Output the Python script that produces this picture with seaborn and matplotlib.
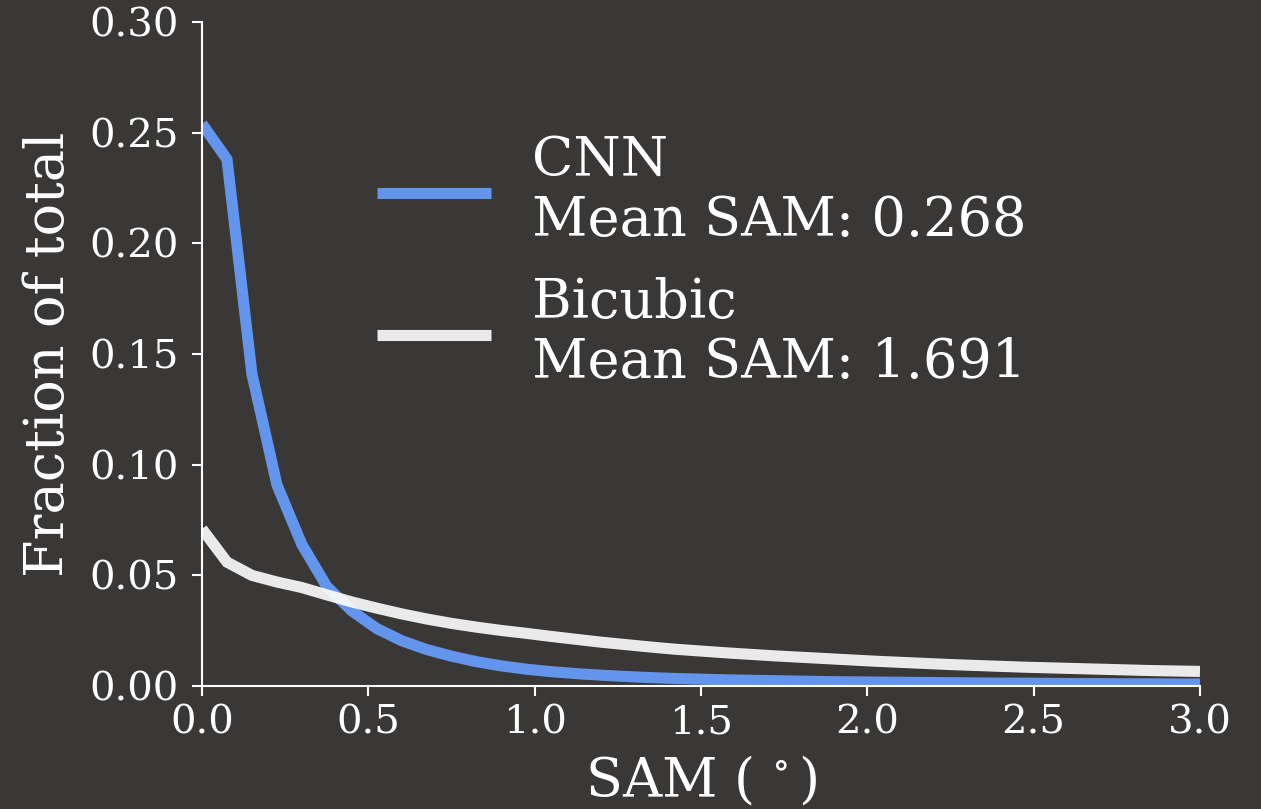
import numpy as np
import pandas as pd
import matplotlib
matplotlib.use("Agg")
import matplotlib.pyplot as plt
import seaborn as sns

# SAM histogram bins (degrees) and fraction of pixels in each bin
sam_bins = [0.0, 0.075, 0.15, 0.225, 0.3, 0.375, 0.45, 0.525, 0.6, 0.675,
            0.75, 0.825, 0.9, 0.975, 1.05, 1.125, 1.2, 1.275, 1.35, 1.425,
            1.5, 1.575, 1.65, 1.725, 1.8, 1.875, 1.95, 2.025, 2.1, 2.175,
            2.25, 2.325, 2.4, 2.475, 2.55, 2.625, 2.7, 2.775, 2.85, 2.925, 3.0]

cnn_frac = [0.254, 0.238, 0.141, 0.091, 0.064, 0.045, 0.034, 0.026, 0.0205, 0.0165,
            0.0135, 0.011, 0.0091, 0.0076, 0.0065, 0.0056, 0.0049, 0.0043, 0.0038, 0.0034,
            0.0031, 0.0028, 0.0026, 0.0024, 0.0022, 0.0020, 0.0019, 0.0018, 0.0017, 0.0016,
            0.0015, 0.0014, 0.0013, 0.0013, 0.0012, 0.0011, 0.0011, 0.0010, 0.0010, 0.0009, 0.0009]

bicubic_frac = [0.071, 0.056, 0.050, 0.047, 0.0445, 0.0412, 0.0380, 0.0352, 0.0326, 0.0303,
                0.0283, 0.0266, 0.0251, 0.0238, 0.0224, 0.0211, 0.0198, 0.0187, 0.0176, 0.0166,
                0.0158, 0.0150, 0.0143, 0.0136, 0.0130, 0.0124, 0.0118, 0.0112, 0.0107, 0.0102,
                0.0097, 0.0093, 0.0089, 0.0085, 0.0082, 0.0079, 0.0076, 0.0073, 0.0070, 0.0068, 0.0066]

cnn_mean_sam = 0.268
bicubic_mean_sam = 1.691

x_ticks = [0.0, 0.5, 1.0, 1.5, 2.0, 2.5, 3.0]
y_ticks = [0.00, 0.05, 0.10, 0.15, 0.20, 0.25, 0.30]

bg = "#3a3836"
fg = "white"

sns.set_style("ticks", rc={
    "axes.facecolor": bg,
    "figure.facecolor": bg,
    "axes.edgecolor": fg,
    "axes.labelcolor": fg,
    "xtick.color": fg,
    "ytick.color": fg,
    "text.color": fg,
})
plt.rcParams["font.family"] = ["DejaVu Serif"]
plt.rcParams["mathtext.fontset"] = "dejavuserif"

fig, ax = plt.subplots(figsize=(12.61, 8.09), dpi=100)
fig.subplots_adjust(left=0.1602, right=0.9516, top=0.9728, bottom=0.152)

df_cnn = pd.DataFrame({"sam": sam_bins, "frac": cnn_frac})
df_bic = pd.DataFrame({"sam": sam_bins, "frac": bicubic_frac})

line_kw = dict(linewidth=8, solid_capstyle="butt", solid_joinstyle="miter")
sns.lineplot(data=df_cnn, x="sam", y="frac", ax=ax, color="cornflowerblue",
             label=f"CNN\nMean SAM: {cnn_mean_sam:.3f}", **line_kw)
sns.lineplot(data=df_bic, x="sam", y="frac", ax=ax, color="white", alpha=0.9,
             label=f"Bicubic\nMean SAM: {bicubic_mean_sam:.3f}", **line_kw)

ax.set_xlim(0, 3)
ax.set_ylim(0, 0.30)
ax.set_xticks(x_ticks)
ax.set_yticks(y_ticks)
ax.set_xticklabels([f"{v:.1f}" for v in x_ticks])
ax.set_yticklabels([f"{v:.2f}" for v in y_ticks])
ax.tick_params(labelsize=29, width=1.5, length=7)
ax.tick_params(axis="y", pad=10)
ax.tick_params(axis="x", pad=6)
for s in ("left", "bottom"):
    ax.spines[s].set_linewidth(1.5)
sns.despine(ax=ax)

ax.set_xlabel(r"SAM ($\,^\circ$)", fontsize=39, labelpad=9)
ax.set_ylabel("Fraction of total", fontsize=39, labelpad=10)

leg = ax.legend(loc="center left", bbox_to_anchor=(0.26, 0.676), bbox_transform=fig.transFigure,
                frameon=False, fontsize=39, handlelength=2.12, handletextpad=0.74,
                labelspacing=0.55)

fig.savefig("out.png", dpi=100, facecolor=bg)
